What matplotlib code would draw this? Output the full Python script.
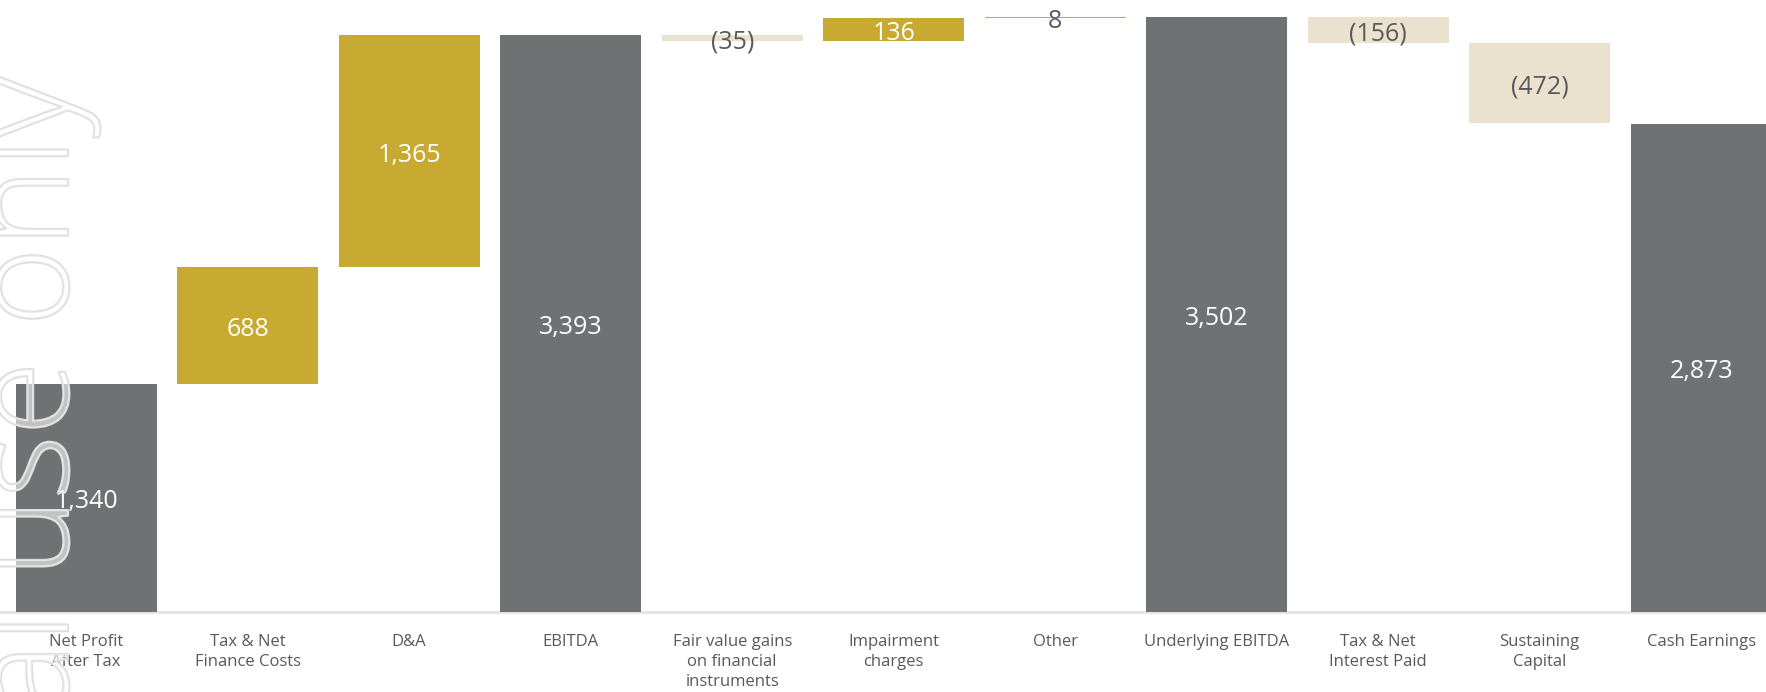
import matplotlib
matplotlib.use("Agg")
import matplotlib.pyplot as plt
import matplotlib.patheffects as pe
from matplotlib.transforms import offset_copy

categories = ["Net Profit\nAfter Tax", "Tax & Net\nFinance Costs", "D&A", "EBITDA",
              "Fair value gains\non financial\ninstruments", "Impairment\ncharges", "Other",
              "Underlying EBITDA", "Tax & Net\nInterest Paid", "Sustaining\nCapital", "Cash Earnings"]
values = [1340, 688, 1365, 3393, -35, 136, 8, 3502, -156, -472, 2873]
kinds = ["total", "inc", "inc", "total", "dec", "inc", "inc", "total", "dec", "dec", "total"]

GRAY = "#6f7272"
GOLD = "#c8aa32"
BEIGE = "#eae1cf"
TEXT = "#595959"

plt.rcParams["font.family"] = ["Open Sans", "DejaVu Sans"]

fig = plt.figure(figsize=(17.66, 6.92), dpi=100)
ax = fig.add_axes([0, 80.4 / 692, 1, 611.6 / 692])

running = 0
bottoms, heights, colors = [], [], []
for v, k in zip(values, kinds):
    if k == "total":
        b, h, c = 0, v, GRAY
        running = v
    elif k == "inc":
        b, h, c = running, v, GOLD
        running += v
    else:
        b, h, c = running + v, -v, BEIGE
        running += v
    bottoms.append(b)
    heights.append(h)
    colors.append(c)

x = list(range(len(categories)))
ax.bar(x, heights, bottom=bottoms, width=0.872, color=colors, zorder=2)

lab_tr = offset_copy(ax.transData, fig=fig, x=0, y=-3, units="points")
for xi, v, b, h, c in zip(x, values, bottoms, heights, colors):
    lab = f"{v:,}" if v >= 0 else f"({-v:,})"
    tc = TEXT if (c == BEIGE or abs(v) < 50) else "white"
    ax.text(xi, b + h / 2, lab, ha="center", va="center", color=tc, fontsize=18,
            zorder=4, transform=lab_tr)

ax.axhline(0, color="#e3e3e3", lw=2, zorder=1, clip_on=False)

ax.set_xlim(-0.5335, 10.401)
ax.set_ylim(0, 3600)
ax.set_xticks(x)
ax.set_xticklabels(categories, fontsize=12, color=TEXT, linespacing=1.35)
ax.tick_params(axis="x", length=0, pad=16)
ax.set_yticks([])
for s in ax.spines.values():
    s.set_visible(False)

# watermark
wm = fig.text(68 / 1766, 617 / 692, "For personal use only", rotation=90,
              rotation_mode="anchor", ha="right", va="baseline", fontsize=97,
              fontweight="light", color=(1, 1, 1, 0.35), zorder=10)
wm.set_path_effects([pe.Stroke(linewidth=1.6, foreground="#dcdcdc"), pe.Normal()])

fig.savefig("out.png", dpi=100)
